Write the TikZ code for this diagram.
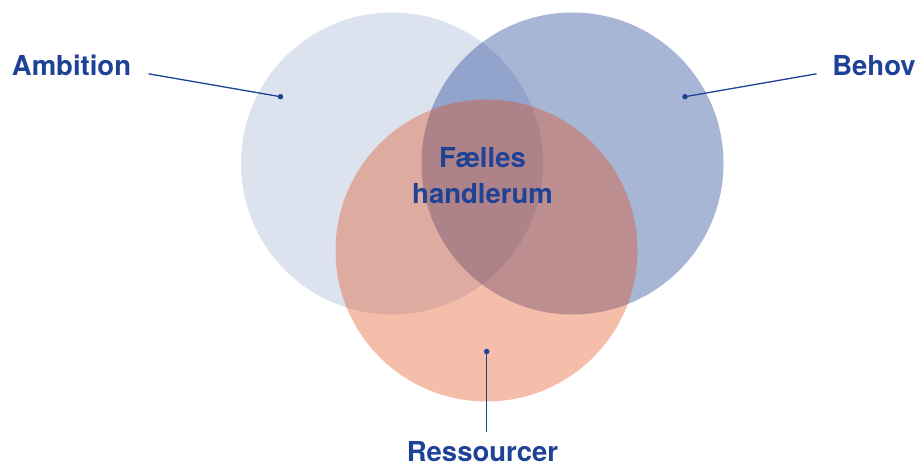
\documentclass[tikz,border=0pt]{standalone}
\usepackage{fontspec}
\setmainfont{TeX Gyre Heros}
\begin{document}
\definecolor{navy}{RGB}{26,63,147}
\definecolor{textblue}{RGB}{30,66,150}
\definecolor{coral}{RGB}{226,69,14}
\begin{tikzpicture}[x=1pt,y=-1pt,
  setcircle/.style={circle,minimum size=302pt,inner sep=0pt,draw=none},
  ambitionset/.style={setcircle,fill=navy,fill opacity=0.15},
  behovset/.style={setcircle,fill=navy,fill opacity=0.38},
  ressourceset/.style={setcircle,fill=coral,fill opacity=0.35},
  label/.style={text=textblue,font=\fontsize{27.5}{36}\selectfont\bfseries,inner sep=0pt},
  pin/.style={draw=textblue,line width=1.3pt},
  pindot/.style={circle,fill=textblue,inner sep=0pt,minimum size=5.5pt}]
  \useasboundingbox (0,0) rectangle (918,466);
  % the three sets
  \node[ambitionset] (amb) at (392,163.5) {};
  \node[behovset] (beh) at (572.5,163.5) {};
  \node[ressourceset] (res) at (486.5,250.5) {};
  % labels
  \node[label,anchor=base] (tamb) at (71.5,75) {Ambition};
  \node[label,anchor=base] (tbeh) at (874,75) {Behov};
  \node[label,anchor=base] (tres) at (482.5,461.5) {Ressourcer};
  \node[label,align=center,anchor=base] (tmid) at (482.5,203) {Fælles\\handlerum};
  % leader lines with end dots
  \node[pindot] (damb) at (280.5,96.7) {};
  \node[pindot] (dbeh) at (685,96.7) {};
  \node[pindot] (dres) at (486.7,351.5) {};
  \coordinate (eamb) at (148.5,73.8);
  \coordinate (ebeh) at (816.5,73.8);
  \coordinate (eres) at (486.7,432);
  \draw[pin] (eamb) -- (damb.center);
  \draw[pin] (ebeh) -- (dbeh.center);
  \draw[pin] (dres.center) -- (eres);
\end{tikzpicture}
\end{document}
